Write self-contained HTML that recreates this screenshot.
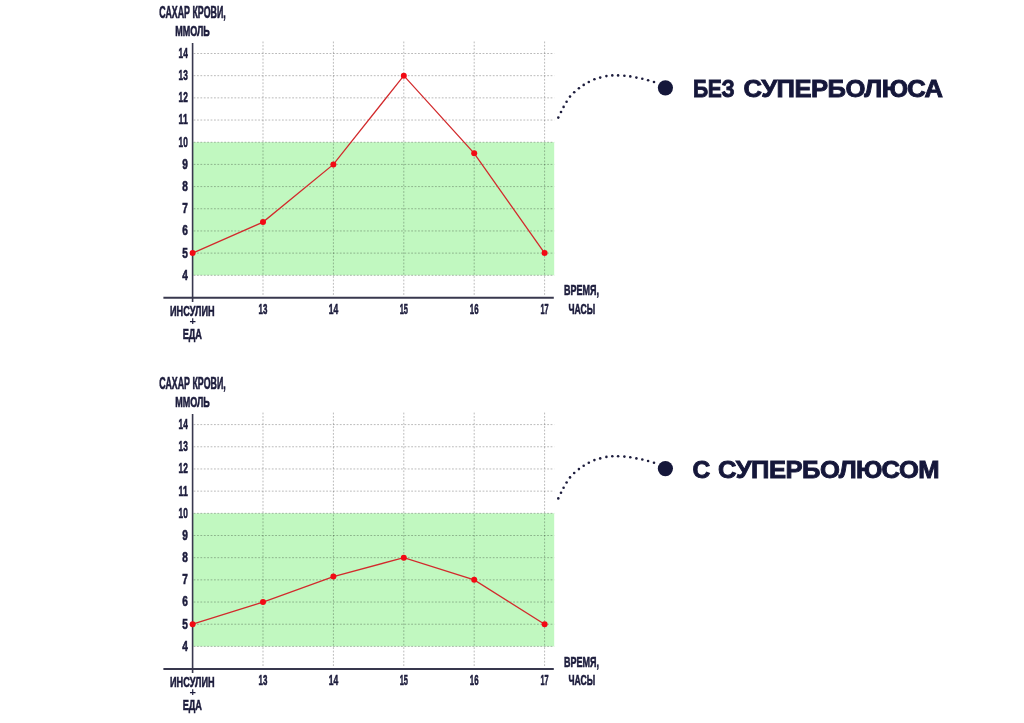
<!DOCTYPE html>
<html><head><meta charset="utf-8"><title>Superbolus</title>
<style>
html,body{margin:0;padding:0;background:#fff;width:1024px;height:723px;overflow:hidden}
svg{display:block;font-family:"Liberation Sans",sans-serif;will-change:transform}
</style></head><body>
<svg width="1024" height="723" viewBox="0 0 1024 723">
<rect x="192.60" y="142.22" width="361.60" height="133.08" fill="#c1f8c0"/>
<line x1="193.60" y1="275.30" x2="554.2" y2="275.30" stroke="#000" stroke-opacity="0.27" stroke-width="1" stroke-dasharray="1.8 1.6"/>
<line x1="193.60" y1="253.12" x2="554.2" y2="253.12" stroke="#000" stroke-opacity="0.27" stroke-width="1" stroke-dasharray="1.8 1.6"/>
<line x1="193.60" y1="230.94" x2="554.2" y2="230.94" stroke="#000" stroke-opacity="0.27" stroke-width="1" stroke-dasharray="1.8 1.6"/>
<line x1="193.60" y1="208.76" x2="554.2" y2="208.76" stroke="#000" stroke-opacity="0.27" stroke-width="1" stroke-dasharray="1.8 1.6"/>
<line x1="193.60" y1="186.58" x2="554.2" y2="186.58" stroke="#000" stroke-opacity="0.27" stroke-width="1" stroke-dasharray="1.8 1.6"/>
<line x1="193.60" y1="164.40" x2="554.2" y2="164.40" stroke="#000" stroke-opacity="0.27" stroke-width="1" stroke-dasharray="1.8 1.6"/>
<line x1="193.60" y1="142.22" x2="554.2" y2="142.22" stroke="#000" stroke-opacity="0.27" stroke-width="1" stroke-dasharray="1.8 1.6"/>
<line x1="193.60" y1="120.04" x2="554.2" y2="120.04" stroke="#000" stroke-opacity="0.27" stroke-width="1" stroke-dasharray="1.8 1.6"/>
<line x1="193.60" y1="97.86" x2="554.2" y2="97.86" stroke="#000" stroke-opacity="0.27" stroke-width="1" stroke-dasharray="1.8 1.6"/>
<line x1="193.60" y1="75.68" x2="554.2" y2="75.68" stroke="#000" stroke-opacity="0.27" stroke-width="1" stroke-dasharray="1.8 1.6"/>
<line x1="193.60" y1="53.50" x2="554.2" y2="53.50" stroke="#000" stroke-opacity="0.27" stroke-width="1" stroke-dasharray="1.8 1.6"/>
<line x1="263.00" y1="41.50" x2="263.00" y2="295.00" stroke="#000" stroke-opacity="0.27" stroke-width="1" stroke-dasharray="1.8 1.6"/>
<line x1="333.40" y1="41.50" x2="333.40" y2="295.00" stroke="#000" stroke-opacity="0.27" stroke-width="1" stroke-dasharray="1.8 1.6"/>
<line x1="403.80" y1="41.50" x2="403.80" y2="295.00" stroke="#000" stroke-opacity="0.27" stroke-width="1" stroke-dasharray="1.8 1.6"/>
<line x1="474.20" y1="41.50" x2="474.20" y2="295.00" stroke="#000" stroke-opacity="0.27" stroke-width="1" stroke-dasharray="1.8 1.6"/>
<line x1="544.60" y1="41.50" x2="544.60" y2="295.00" stroke="#000" stroke-opacity="0.27" stroke-width="1" stroke-dasharray="1.8 1.6"/>
<line x1="192.60" y1="43.00" x2="192.60" y2="302.00" stroke="#38384e" stroke-width="1.6"/>
<line x1="163.4" y1="297.80" x2="553.8" y2="297.80" stroke="#38384e" stroke-width="2"/>
<polyline fill="none" stroke="#d22a2c" stroke-width="1.3" points="192.60,253.12 263.00,222.07 333.40,164.40 403.80,75.68 474.20,153.31 544.60,253.12"/>
<circle cx="192.60" cy="253.12" r="3" fill="#f20a14"/>
<circle cx="263.00" cy="222.07" r="3" fill="#f20a14"/>
<circle cx="333.40" cy="164.40" r="3" fill="#f20a14"/>
<circle cx="403.80" cy="75.68" r="3" fill="#f20a14"/>
<circle cx="474.20" cy="153.31" r="3" fill="#f20a14"/>
<circle cx="544.60" cy="253.12" r="3" fill="#f20a14"/>
<text x="182.20" y="279.70" font-size="14.2" font-weight="bold" textLength="5.60" lengthAdjust="spacingAndGlyphs" fill="#1c1c3c" stroke="#1c1c3c" stroke-width="0.6">4</text>
<text x="182.20" y="257.52" font-size="14.2" font-weight="bold" textLength="5.60" lengthAdjust="spacingAndGlyphs" fill="#1c1c3c" stroke="#1c1c3c" stroke-width="0.6">5</text>
<text x="182.20" y="235.34" font-size="14.2" font-weight="bold" textLength="5.60" lengthAdjust="spacingAndGlyphs" fill="#1c1c3c" stroke="#1c1c3c" stroke-width="0.6">6</text>
<text x="182.20" y="213.16" font-size="14.2" font-weight="bold" textLength="5.60" lengthAdjust="spacingAndGlyphs" fill="#1c1c3c" stroke="#1c1c3c" stroke-width="0.6">7</text>
<text x="182.20" y="190.98" font-size="14.2" font-weight="bold" textLength="5.60" lengthAdjust="spacingAndGlyphs" fill="#1c1c3c" stroke="#1c1c3c" stroke-width="0.6">8</text>
<text x="182.20" y="168.80" font-size="14.2" font-weight="bold" textLength="5.60" lengthAdjust="spacingAndGlyphs" fill="#1c1c3c" stroke="#1c1c3c" stroke-width="0.6">9</text>
<text x="178.60" y="146.62" font-size="14.2" font-weight="bold" textLength="9.20" lengthAdjust="spacingAndGlyphs" fill="#1c1c3c" stroke="#1c1c3c" stroke-width="0.6">10</text>
<text x="178.60" y="124.44" font-size="14.2" font-weight="bold" textLength="9.20" lengthAdjust="spacingAndGlyphs" fill="#1c1c3c" stroke="#1c1c3c" stroke-width="0.6">11</text>
<text x="178.60" y="102.26" font-size="14.2" font-weight="bold" textLength="9.20" lengthAdjust="spacingAndGlyphs" fill="#1c1c3c" stroke="#1c1c3c" stroke-width="0.6">12</text>
<text x="178.60" y="80.08" font-size="14.2" font-weight="bold" textLength="9.20" lengthAdjust="spacingAndGlyphs" fill="#1c1c3c" stroke="#1c1c3c" stroke-width="0.6">13</text>
<text x="178.60" y="57.90" font-size="14.2" font-weight="bold" textLength="9.20" lengthAdjust="spacingAndGlyphs" fill="#1c1c3c" stroke="#1c1c3c" stroke-width="0.6">14</text>
<text x="159.30" y="18.30" font-size="15.6" font-weight="bold" textLength="66.40" lengthAdjust="spacingAndGlyphs" fill="#1c1c3c" stroke="#1c1c3c" stroke-width="0.6">САХАР КРОВИ,</text>
<text x="175.20" y="36.00" font-size="14.2" font-weight="bold" textLength="34.60" lengthAdjust="spacingAndGlyphs" fill="#1c1c3c" stroke="#1c1c3c" stroke-width="0.6">ММОЛЬ</text>
<text x="170.00" y="315.50" font-size="14.8" font-weight="bold" textLength="44.60" lengthAdjust="spacingAndGlyphs" fill="#1c1c3c" stroke="#1c1c3c" stroke-width="0.6">ИНСУЛИН</text>
<text x="192.6" y="325.00" font-size="11" font-weight="bold" text-anchor="middle" fill="#1c1c3c">+</text>
<text x="182.70" y="338.70" font-size="14.8" font-weight="bold" textLength="19.30" lengthAdjust="spacingAndGlyphs" fill="#1c1c3c" stroke="#1c1c3c" stroke-width="0.6">ЕДА</text>
<text x="258.60" y="314.10" font-size="13.9" font-weight="bold" textLength="8.80" lengthAdjust="spacingAndGlyphs" fill="#1c1c3c" stroke="#1c1c3c" stroke-width="0.6">13</text>
<text x="328.70" y="314.10" font-size="13.9" font-weight="bold" textLength="9.40" lengthAdjust="spacingAndGlyphs" fill="#1c1c3c" stroke="#1c1c3c" stroke-width="0.6">14</text>
<text x="399.65" y="314.10" font-size="13.9" font-weight="bold" textLength="8.30" lengthAdjust="spacingAndGlyphs" fill="#1c1c3c" stroke="#1c1c3c" stroke-width="0.6">15</text>
<text x="469.85" y="314.10" font-size="13.9" font-weight="bold" textLength="8.70" lengthAdjust="spacingAndGlyphs" fill="#1c1c3c" stroke="#1c1c3c" stroke-width="0.6">16</text>
<text x="540.50" y="314.10" font-size="13.9" font-weight="bold" textLength="8.20" lengthAdjust="spacingAndGlyphs" fill="#1c1c3c" stroke="#1c1c3c" stroke-width="0.6">17</text>
<text x="564.00" y="295.40" font-size="14.8" font-weight="bold" textLength="35.00" lengthAdjust="spacingAndGlyphs" fill="#1c1c3c" stroke="#1c1c3c" stroke-width="0.6">ВРЕМЯ,</text>
<text x="568.50" y="314.20" font-size="14" font-weight="bold" textLength="26.70" lengthAdjust="spacingAndGlyphs" fill="#1c1c3c" stroke="#1c1c3c" stroke-width="0.6">ЧАСЫ</text>
<rect x="192.60" y="513.32" width="361.60" height="133.08" fill="#c1f8c0"/>
<line x1="193.60" y1="646.40" x2="554.2" y2="646.40" stroke="#000" stroke-opacity="0.27" stroke-width="1" stroke-dasharray="1.8 1.6"/>
<line x1="193.60" y1="624.22" x2="554.2" y2="624.22" stroke="#000" stroke-opacity="0.27" stroke-width="1" stroke-dasharray="1.8 1.6"/>
<line x1="193.60" y1="602.04" x2="554.2" y2="602.04" stroke="#000" stroke-opacity="0.27" stroke-width="1" stroke-dasharray="1.8 1.6"/>
<line x1="193.60" y1="579.86" x2="554.2" y2="579.86" stroke="#000" stroke-opacity="0.27" stroke-width="1" stroke-dasharray="1.8 1.6"/>
<line x1="193.60" y1="557.68" x2="554.2" y2="557.68" stroke="#000" stroke-opacity="0.27" stroke-width="1" stroke-dasharray="1.8 1.6"/>
<line x1="193.60" y1="535.50" x2="554.2" y2="535.50" stroke="#000" stroke-opacity="0.27" stroke-width="1" stroke-dasharray="1.8 1.6"/>
<line x1="193.60" y1="513.32" x2="554.2" y2="513.32" stroke="#000" stroke-opacity="0.27" stroke-width="1" stroke-dasharray="1.8 1.6"/>
<line x1="193.60" y1="491.14" x2="554.2" y2="491.14" stroke="#000" stroke-opacity="0.27" stroke-width="1" stroke-dasharray="1.8 1.6"/>
<line x1="193.60" y1="468.96" x2="554.2" y2="468.96" stroke="#000" stroke-opacity="0.27" stroke-width="1" stroke-dasharray="1.8 1.6"/>
<line x1="193.60" y1="446.78" x2="554.2" y2="446.78" stroke="#000" stroke-opacity="0.27" stroke-width="1" stroke-dasharray="1.8 1.6"/>
<line x1="193.60" y1="424.60" x2="554.2" y2="424.60" stroke="#000" stroke-opacity="0.27" stroke-width="1" stroke-dasharray="1.8 1.6"/>
<line x1="263.00" y1="412.60" x2="263.00" y2="666.10" stroke="#000" stroke-opacity="0.27" stroke-width="1" stroke-dasharray="1.8 1.6"/>
<line x1="333.40" y1="412.60" x2="333.40" y2="666.10" stroke="#000" stroke-opacity="0.27" stroke-width="1" stroke-dasharray="1.8 1.6"/>
<line x1="403.80" y1="412.60" x2="403.80" y2="666.10" stroke="#000" stroke-opacity="0.27" stroke-width="1" stroke-dasharray="1.8 1.6"/>
<line x1="474.20" y1="412.60" x2="474.20" y2="666.10" stroke="#000" stroke-opacity="0.27" stroke-width="1" stroke-dasharray="1.8 1.6"/>
<line x1="544.60" y1="412.60" x2="544.60" y2="666.10" stroke="#000" stroke-opacity="0.27" stroke-width="1" stroke-dasharray="1.8 1.6"/>
<line x1="192.60" y1="414.10" x2="192.60" y2="673.10" stroke="#38384e" stroke-width="1.6"/>
<line x1="163.4" y1="668.90" x2="553.8" y2="668.90" stroke="#38384e" stroke-width="2"/>
<polyline fill="none" stroke="#d22a2c" stroke-width="1.3" points="192.60,624.22 263.00,602.04 333.40,576.53 403.80,557.68 474.20,579.86 544.60,624.22"/>
<circle cx="192.60" cy="624.22" r="3" fill="#f20a14"/>
<circle cx="263.00" cy="602.04" r="3" fill="#f20a14"/>
<circle cx="333.40" cy="576.53" r="3" fill="#f20a14"/>
<circle cx="403.80" cy="557.68" r="3" fill="#f20a14"/>
<circle cx="474.20" cy="579.86" r="3" fill="#f20a14"/>
<circle cx="544.60" cy="624.22" r="3" fill="#f20a14"/>
<text x="182.20" y="650.80" font-size="14.2" font-weight="bold" textLength="5.60" lengthAdjust="spacingAndGlyphs" fill="#1c1c3c" stroke="#1c1c3c" stroke-width="0.6">4</text>
<text x="182.20" y="628.62" font-size="14.2" font-weight="bold" textLength="5.60" lengthAdjust="spacingAndGlyphs" fill="#1c1c3c" stroke="#1c1c3c" stroke-width="0.6">5</text>
<text x="182.20" y="606.44" font-size="14.2" font-weight="bold" textLength="5.60" lengthAdjust="spacingAndGlyphs" fill="#1c1c3c" stroke="#1c1c3c" stroke-width="0.6">6</text>
<text x="182.20" y="584.26" font-size="14.2" font-weight="bold" textLength="5.60" lengthAdjust="spacingAndGlyphs" fill="#1c1c3c" stroke="#1c1c3c" stroke-width="0.6">7</text>
<text x="182.20" y="562.08" font-size="14.2" font-weight="bold" textLength="5.60" lengthAdjust="spacingAndGlyphs" fill="#1c1c3c" stroke="#1c1c3c" stroke-width="0.6">8</text>
<text x="182.20" y="539.90" font-size="14.2" font-weight="bold" textLength="5.60" lengthAdjust="spacingAndGlyphs" fill="#1c1c3c" stroke="#1c1c3c" stroke-width="0.6">9</text>
<text x="178.60" y="517.72" font-size="14.2" font-weight="bold" textLength="9.20" lengthAdjust="spacingAndGlyphs" fill="#1c1c3c" stroke="#1c1c3c" stroke-width="0.6">10</text>
<text x="178.60" y="495.54" font-size="14.2" font-weight="bold" textLength="9.20" lengthAdjust="spacingAndGlyphs" fill="#1c1c3c" stroke="#1c1c3c" stroke-width="0.6">11</text>
<text x="178.60" y="473.36" font-size="14.2" font-weight="bold" textLength="9.20" lengthAdjust="spacingAndGlyphs" fill="#1c1c3c" stroke="#1c1c3c" stroke-width="0.6">12</text>
<text x="178.60" y="451.18" font-size="14.2" font-weight="bold" textLength="9.20" lengthAdjust="spacingAndGlyphs" fill="#1c1c3c" stroke="#1c1c3c" stroke-width="0.6">13</text>
<text x="178.60" y="429.00" font-size="14.2" font-weight="bold" textLength="9.20" lengthAdjust="spacingAndGlyphs" fill="#1c1c3c" stroke="#1c1c3c" stroke-width="0.6">14</text>
<text x="159.30" y="389.40" font-size="15.6" font-weight="bold" textLength="66.40" lengthAdjust="spacingAndGlyphs" fill="#1c1c3c" stroke="#1c1c3c" stroke-width="0.6">САХАР КРОВИ,</text>
<text x="175.20" y="407.10" font-size="14.2" font-weight="bold" textLength="34.60" lengthAdjust="spacingAndGlyphs" fill="#1c1c3c" stroke="#1c1c3c" stroke-width="0.6">ММОЛЬ</text>
<text x="170.00" y="686.60" font-size="14.8" font-weight="bold" textLength="44.60" lengthAdjust="spacingAndGlyphs" fill="#1c1c3c" stroke="#1c1c3c" stroke-width="0.6">ИНСУЛИН</text>
<text x="192.6" y="696.10" font-size="11" font-weight="bold" text-anchor="middle" fill="#1c1c3c">+</text>
<text x="182.70" y="709.80" font-size="14.8" font-weight="bold" textLength="19.30" lengthAdjust="spacingAndGlyphs" fill="#1c1c3c" stroke="#1c1c3c" stroke-width="0.6">ЕДА</text>
<text x="258.60" y="685.20" font-size="13.9" font-weight="bold" textLength="8.80" lengthAdjust="spacingAndGlyphs" fill="#1c1c3c" stroke="#1c1c3c" stroke-width="0.6">13</text>
<text x="328.70" y="685.20" font-size="13.9" font-weight="bold" textLength="9.40" lengthAdjust="spacingAndGlyphs" fill="#1c1c3c" stroke="#1c1c3c" stroke-width="0.6">14</text>
<text x="399.65" y="685.20" font-size="13.9" font-weight="bold" textLength="8.30" lengthAdjust="spacingAndGlyphs" fill="#1c1c3c" stroke="#1c1c3c" stroke-width="0.6">15</text>
<text x="469.85" y="685.20" font-size="13.9" font-weight="bold" textLength="8.70" lengthAdjust="spacingAndGlyphs" fill="#1c1c3c" stroke="#1c1c3c" stroke-width="0.6">16</text>
<text x="540.50" y="685.20" font-size="13.9" font-weight="bold" textLength="8.20" lengthAdjust="spacingAndGlyphs" fill="#1c1c3c" stroke="#1c1c3c" stroke-width="0.6">17</text>
<text x="564.00" y="666.50" font-size="14.8" font-weight="bold" textLength="35.00" lengthAdjust="spacingAndGlyphs" fill="#1c1c3c" stroke="#1c1c3c" stroke-width="0.6">ВРЕМЯ,</text>
<text x="568.50" y="685.30" font-size="14" font-weight="bold" textLength="26.70" lengthAdjust="spacingAndGlyphs" fill="#1c1c3c" stroke="#1c1c3c" stroke-width="0.6">ЧАСЫ</text>
<circle cx="558.30" cy="117.60" r="1.3" fill="#1c1c3c"/>
<circle cx="561.00" cy="112.00" r="1.3" fill="#1c1c3c"/>
<circle cx="563.60" cy="106.90" r="1.3" fill="#1c1c3c"/>
<circle cx="566.60" cy="101.70" r="1.3" fill="#1c1c3c"/>
<circle cx="570.00" cy="96.60" r="1.3" fill="#1c1c3c"/>
<circle cx="574.20" cy="92.20" r="1.3" fill="#1c1c3c"/>
<circle cx="578.90" cy="88.30" r="1.3" fill="#1c1c3c"/>
<circle cx="583.70" cy="84.90" r="1.3" fill="#1c1c3c"/>
<circle cx="588.80" cy="82.00" r="1.3" fill="#1c1c3c"/>
<circle cx="594.40" cy="79.30" r="1.3" fill="#1c1c3c"/>
<circle cx="600.20" cy="77.60" r="1.3" fill="#1c1c3c"/>
<circle cx="606.40" cy="76.10" r="1.3" fill="#1c1c3c"/>
<circle cx="612.30" cy="75.40" r="1.3" fill="#1c1c3c"/>
<circle cx="618.10" cy="75.40" r="1.3" fill="#1c1c3c"/>
<circle cx="624.40" cy="75.80" r="1.3" fill="#1c1c3c"/>
<circle cx="630.30" cy="76.40" r="1.3" fill="#1c1c3c"/>
<circle cx="636.40" cy="77.60" r="1.3" fill="#1c1c3c"/>
<circle cx="642.30" cy="78.70" r="1.3" fill="#1c1c3c"/>
<circle cx="648.10" cy="80.20" r="1.3" fill="#1c1c3c"/>
<circle cx="654.00" cy="82.00" r="1.3" fill="#1c1c3c"/>
<circle cx="665.4" cy="87.80" r="7.6" fill="#15173a"/>
<text letter-spacing="-0.5" x="693.10" y="96.90" font-size="24.6" font-weight="bold" textLength="41.10" lengthAdjust="spacingAndGlyphs" fill="#15173a" stroke="#15173a" stroke-width="0.9">БЕЗ</text>
<text letter-spacing="-0.5" x="743.60" y="96.90" font-size="24.6" font-weight="bold" textLength="198.90" lengthAdjust="spacingAndGlyphs" fill="#15173a" stroke="#15173a" stroke-width="0.9">СУПЕРБОЛЮСА</text>
<circle cx="558.30" cy="498.40" r="1.3" fill="#1c1c3c"/>
<circle cx="561.00" cy="492.80" r="1.3" fill="#1c1c3c"/>
<circle cx="563.60" cy="487.70" r="1.3" fill="#1c1c3c"/>
<circle cx="566.60" cy="482.50" r="1.3" fill="#1c1c3c"/>
<circle cx="570.00" cy="477.40" r="1.3" fill="#1c1c3c"/>
<circle cx="574.20" cy="473.00" r="1.3" fill="#1c1c3c"/>
<circle cx="578.90" cy="469.10" r="1.3" fill="#1c1c3c"/>
<circle cx="583.70" cy="465.70" r="1.3" fill="#1c1c3c"/>
<circle cx="588.80" cy="462.80" r="1.3" fill="#1c1c3c"/>
<circle cx="594.40" cy="460.10" r="1.3" fill="#1c1c3c"/>
<circle cx="600.20" cy="458.40" r="1.3" fill="#1c1c3c"/>
<circle cx="606.40" cy="456.90" r="1.3" fill="#1c1c3c"/>
<circle cx="612.30" cy="456.20" r="1.3" fill="#1c1c3c"/>
<circle cx="618.10" cy="456.20" r="1.3" fill="#1c1c3c"/>
<circle cx="624.40" cy="456.60" r="1.3" fill="#1c1c3c"/>
<circle cx="630.30" cy="457.20" r="1.3" fill="#1c1c3c"/>
<circle cx="636.40" cy="458.40" r="1.3" fill="#1c1c3c"/>
<circle cx="642.30" cy="459.50" r="1.3" fill="#1c1c3c"/>
<circle cx="648.10" cy="461.00" r="1.3" fill="#1c1c3c"/>
<circle cx="654.00" cy="462.80" r="1.3" fill="#1c1c3c"/>
<circle cx="665.4" cy="468.60" r="7.6" fill="#15173a"/>
<text x="692.50" y="477.70" font-size="24.6" font-weight="bold" fill="#15173a" stroke="#15173a" stroke-width="0.9">С</text>
<text letter-spacing="-0.5" x="718.10" y="477.70" font-size="24.6" font-weight="bold" textLength="221.00" lengthAdjust="spacingAndGlyphs" fill="#15173a" stroke="#15173a" stroke-width="0.9">СУПЕРБОЛЮСОМ</text>
</svg>
</body></html>
